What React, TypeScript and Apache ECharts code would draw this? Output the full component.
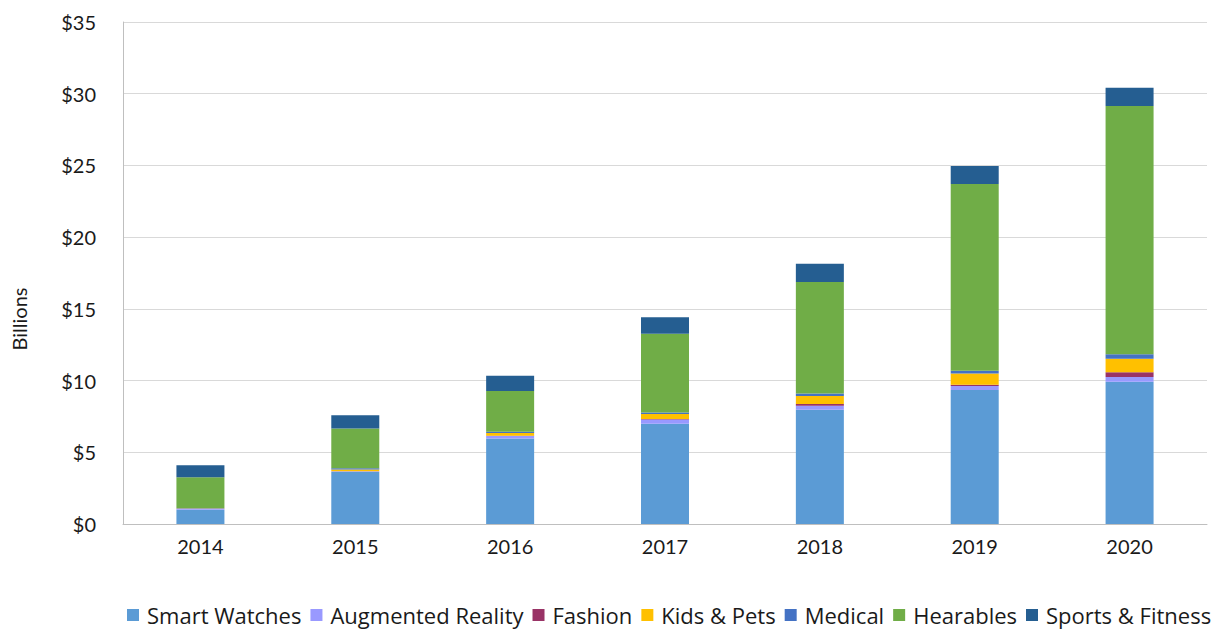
import React, { useEffect, useRef } from "react";
import * as echarts from "echarts";

const years = ["2014", "2015", "2016", "2017", "2018", "2019", "2020"];
const smartWatches = [1.0, 3.63, 5.96, 6.99, 7.97, 9.34, 9.92];
const augmentedReality = [0.04, 0.04, 0.17, 0.3, 0.28, 0.28, 0.33];
const fashion = [0.01, 0.01, 0.02, 0.03, 0.12, 0.09, 0.33];
const kidsPets = [0.03, 0.12, 0.2, 0.35, 0.56, 0.79, 0.95];
const medical = [0.03, 0.08, 0.09, 0.11, 0.16, 0.18, 0.31];
const hearables = [2.15, 2.77, 2.84, 5.49, 7.79, 13.02, 17.31];
const sportsFitness = [0.83, 0.93, 1.05, 1.15, 1.26, 1.26, 1.26];

const seriesDefs = [
  { name: "Smart Watches", data: smartWatches, color: "#5b9bd5" },
  { name: "Augmented Reality", data: augmentedReality, color: "#9999ff" },
  { name: "Fashion", data: fashion, color: "#993366" },
  { name: "Kids & Pets", data: kidsPets, color: "#ffc000" },
  { name: "Medical", data: medical, color: "#4472c4" },
  { name: "Hearables", data: hearables, color: "#70ad47" },
  { name: "Sports & Fitness", data: sportsFitness, color: "#255e91" },
];

const FONT = "Lato, 'Open Sans', sans-serif";
const LEGEND_FONT = "'Open Sans', Lato, sans-serif";

export default function App() {
  const ref = useRef<HTMLDivElement>(null);
  useEffect(() => {
    if (!ref.current) return;
    const chart = echarts.init(ref.current, null, { renderer: "svg" });
    chart.setOption({
      animation: false,
      backgroundColor: "#ffffff",
      textStyle: { fontFamily: FONT },
      grid: { left: 123, right: 6, top: 22, bottom: 106 },
      legend: {
        left: 127,
        top: 604,
        padding: 0,
        itemWidth: 12,
        itemHeight: 12,
        itemGap: 9,
        icon: "rect",
        textStyle: { fontSize: 22, color: "#1a1a1a", fontFamily: LEGEND_FONT, padding: [0, 0, 0, 3] },
        data: seriesDefs.map((s) => s.name),
      },
      xAxis: {
        type: "category",
        data: years,
        axisLine: { lineStyle: { color: "#bfbfbf", width: 1 } },
        axisTick: { show: false },
        axisLabel: { fontSize: 20, color: "#1a1a1a", margin: 12, fontFamily: FONT },
      },
      yAxis: {
        type: "value",
        min: 0,
        max: 35,
        interval: 5,
        axisLine: { show: true, lineStyle: { color: "#bfbfbf", width: 1 } },
        axisTick: { show: false },
        splitLine: { lineStyle: { color: "#d9d9d9", width: 1 } },
        axisLabel: {
          fontSize: 20,
          color: "#1a1a1a",
          margin: 27,
          fontFamily: FONT,
          formatter: (v: number) => "$" + v,
        },
      },
      graphic: [
        {
          type: "text",
          x: 19,
          y: 319,
          rotation: Math.PI / 2,
          style: {
            text: "Billions",
            fontSize: 20,
            fontFamily: FONT,
            fill: "#1a1a1a",
            align: "center",
            verticalAlign: "middle",
          },
        },
      ],
      series: seriesDefs.map((s) => ({
        name: s.name,
        type: "bar",
        stack: "total",
        barWidth: 48,
        data: s.data,
        itemStyle: { color: s.color },
      })),
    });
    return () => chart.dispose();
  }, []);
  return (
    <div
      ref={ref}
      style={{ position: "fixed", left: 0, top: 0, width: 1213, height: 630, background: "#fff" }}
    />
  );
}
